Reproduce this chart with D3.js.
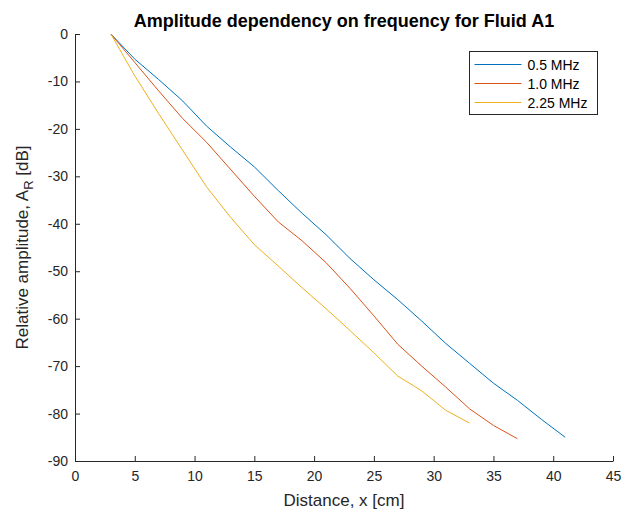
<!DOCTYPE html>
<html>
<head>
<meta charset="utf-8">
<script src="https://cdn.jsdelivr.net/npm/d3@7"></script>
<style>
  body { margin: 0; background: #fff; }
  text { font-family: "Liberation Sans", Arial, sans-serif; }
</style>
</head>
<body>
<div id="root"></div>
<script>
// 数据
let seriesNames = ["0.5 MHz", "1.0 MHz", "2.25 MHz"];
let seriesColors = ["#0072BD", "#D95319", "#EDB120"];
let xBlue = [3, 5, 7, 9, 11, 13, 15, 17, 19, 21, 23, 25, 27, 29, 31, 33, 35, 37, 39, 41];
let yBlue = [0, -5.3, -9.6, -14.1, -19.4, -23.8, -28.0, -33.0, -37.8, -42.3, -47.3, -51.8, -56.0, -60.5, -65.2, -69.4, -73.6, -77.2, -81.2, -85.0];
let xRed = [3, 5, 7, 9, 11, 13, 15, 17, 19, 21, 23, 25, 27, 29, 31, 33, 35, 37];
let yRed = [0, -6.0, -12.0, -17.8, -22.8, -28.5, -34.2, -39.6, -43.6, -48.2, -53.6, -59.4, -65.4, -70.0, -74.4, -79.0, -82.5, -85.3];
let xYellow = [3, 5, 7, 9, 11, 13, 15, 17, 19, 21, 23, 25, 27, 29, 31, 33];
let yYellow = [0, -8.8, -16.8, -24.5, -32.2, -38.6, -44.4, -48.9, -53.5, -57.9, -62.5, -67.2, -72.1, -75.2, -79.3, -82.0];
let xTicks = [0, 5, 10, 15, 20, 25, 30, 35, 40, 45];
let yTicks = [0, -10, -20, -30, -40, -50, -60, -70, -80, -90];

let series = [
  { name: seriesNames[0], color: seriesColors[0], xs: xBlue, ys: yBlue },
  { name: seriesNames[1], color: seriesColors[1], xs: xRed, ys: yRed },
  { name: seriesNames[2], color: seriesColors[2], xs: xYellow, ys: yYellow }
];

let W = 623, H = 514;
let m = { left: 75, right: 10, top: 34, bottom: 53 };

let svg = d3.select("#root").append("svg").attr("width", W).attr("height", H);

let x = d3.scaleLinear().domain([0, 45]).range([m.left, W - m.right]);
let y = d3.scaleLinear().domain([-90, 0]).range([H - m.bottom, m.top]);

// 坐标轴（普通连字符作负号）
let fmt = d => String(d);
let xAxisG = svg.append("g")
  .attr("transform", `translate(0,${y(-90)})`)
  .call(d3.axisBottom(x).tickValues(xTicks).tickFormat(fmt).tickSizeInner(-5).tickSizeOuter(0).tickPadding(10));
let yAxisG = svg.append("g")
  .attr("transform", `translate(${x(0)},0)`)
  .call(d3.axisLeft(y).tickValues(yTicks).tickFormat(fmt).tickSizeInner(-5).tickSizeOuter(0).tickPadding(10));

[xAxisG, yAxisG].forEach(g => {
  g.select(".domain").attr("stroke", "#262626").attr("stroke-width", 1);
  g.selectAll(".tick line").attr("stroke", "#262626");
  g.selectAll(".tick text")
    .attr("fill", "#262626")
    .style("font-size", "14px")
    .style("font-family", "'Liberation Sans', Arial, sans-serif");
});
yAxisG.selectAll(".tick text").attr("dx", "3px");

// 线条
let line = d3.line().x(d => x(d[0])).y(d => y(d[1]));
svg.append("g")
  .selectAll("path")
  .data(series)
  .join("path")
  .attr("fill", "none")
  .attr("stroke", d => d.color)
  .attr("stroke-width", 1)
  .attr("d", d => line(d.xs.map((v, i) => [v, d.ys[i]])));

// 标题
svg.append("text")
  .attr("x", (x(0) + x(45)) / 2)
  .attr("y", 27)
  .attr("text-anchor", "middle")
  .style("font-size", "18px")
  .style("font-weight", "bold")
  .text("Amplitude dependency on frequency for Fluid A1");

// 轴标题
svg.append("text")
  .attr("x", (x(0) + x(45)) / 2)
  .attr("y", 506)
  .attr("text-anchor", "middle")
  .attr("fill", "#262626")
  .style("font-size", "17px")
  .text("Distance, x [cm]");

let yl = svg.append("text")
  .attr("transform", `translate(28,${(y(0) + y(-90)) / 2}) rotate(-90)`)
  .attr("text-anchor", "middle")
  .attr("fill", "#262626")
  .style("font-size", "17px");
yl.append("tspan").text("Relative amplitude, A");
yl.append("tspan").attr("dy", 5).style("font-size", "13px").text("R");
yl.append("tspan").attr("dy", -5).text(" [dB]");

// 图例
let lg = svg.append("g").attr("transform", "translate(469.5,51.5)");
lg.append("rect")
  .attr("width", 128).attr("height", 63)
  .attr("fill", "#fff").attr("stroke", "#262626").attr("stroke-width", 1);
let items = lg.selectAll("g.item").data(series).join("g")
  .attr("class", "item")
  .attr("transform", (d, i) => `translate(0,${13 + i * 19})`);
items.append("line")
  .attr("x1", 5).attr("x2", 52)
  .attr("stroke", d => d.color).attr("stroke-width", 1);
items.append("text")
  .attr("x", 58).attr("y", 5)
  .style("font-size", "14px")
  .text(d => d.name);
</script>
</body>
</html>
